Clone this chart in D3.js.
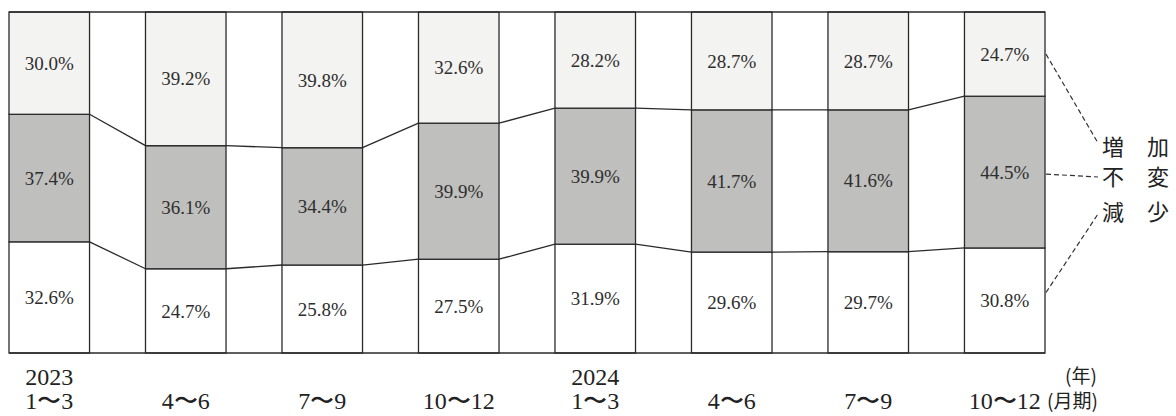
<!DOCTYPE html>
<html>
<head>
<meta charset="utf-8">
<script src="https://cdn.jsdelivr.net/npm/d3@7"></script>
<style>
  html, body { margin: 0; padding: 0; background: #fff; }
  svg { display: block; }
</style>
</head>
<body>
<svg id="chart" width="1176" height="416"></svg>
<script>
// ---- data ----
const periods = ["1〜3", "4〜6", "7〜9", "10〜12", "1〜3", "4〜6", "7〜9", "10〜12"];
const years = ["2023", "", "", "", "2024", "", "", ""];
const decrease = [32.6, 24.7, 25.8, 27.5, 31.9, 29.6, 29.7, 30.8];   // 減少 (bottom)
const unchanged = [37.4, 36.1, 34.4, 39.9, 39.9, 41.7, 41.6, 44.5];  // 不変 (middle)
const increase = [30.0, 39.2, 39.8, 32.6, 28.2, 28.7, 28.7, 24.7];   // 増加 (top)
const seriesNames = ["減　少", "不　変", "増　加"];
const seriesKeys = ["decrease", "unchanged", "increase"];

// ---- layout ----
const svg = d3.select("#chart");
const plotLeft = 9, plotRight = 1045, plotTop = 12, plotBottom = 353;
const fills = { decrease: "#ffffff", unchanged: "#bfbfbd", increase: "#f3f3f1" };
const stroke = "#2a2a2a";
const numFont = "'Liberation Serif', 'Times New Roman', serif";
const cjkFont = "'Noto Sans CJK JP', 'Noto Sans', sans-serif";

const rows = periods.map((p, i) => ({
  idx: i, decrease: decrease[i], unchanged: unchanged[i], increase: increase[i]
}));

const x = d3.scaleBand().domain(d3.range(periods.length)).range([plotLeft, plotRight])
  .paddingInner(0.41).paddingOuter(0);
const y = d3.scaleLinear().domain([0, 100]).range([plotBottom, plotTop]);

const stack = d3.stack().keys(seriesKeys);
const layers = stack(rows);

// connector lines between bars at stack boundaries
const boundaries = [0, 1].map(k => layers[k].map(d => d[1]));
boundaries.forEach(b => {
  for (let i = 0; i < b.length - 1; i++) {
    svg.append("line")
      .attr("x1", x(i) + x.bandwidth()).attr("y1", y(b[i]))
      .attr("x2", x(i + 1)).attr("y2", y(b[i + 1]))
      .attr("stroke", stroke).attr("stroke-width", 1.3);
  }
});

// bar segments
const g = svg.append("g");
layers.forEach(layer => {
  const key = layer.key;
  g.selectAll(null).data(layer).enter().append("rect")
    .attr("x", (d, i) => x(i))
    .attr("y", d => y(d[1]))
    .attr("width", x.bandwidth())
    .attr("height", d => y(d[0]) - y(d[1]))
    .attr("fill", fills[key])
    .attr("stroke", stroke).attr("stroke-width", 1.3);
  g.selectAll(null).data(layer).enter().append("text")
    .attr("x", (d, i) => x(i) + x.bandwidth() / 2)
    .attr("y", d => (y(d[0]) + y(d[1])) / 2)
    .attr("dy", "0.35em")
    .attr("text-anchor", "middle")
    .attr("font-family", numFont).attr("font-size", 19)
    .attr("fill", "#2e2e2e")
    .text(d => d.data[key].toFixed(1) + "%");
});

// outer frame top & bottom
[plotTop, plotBottom].forEach(yy => {
  svg.append("line").attr("x1", plotLeft).attr("x2", plotRight).attr("y1", yy).attr("y2", yy)
    .attr("stroke", stroke).attr("stroke-width", 1.6);
});

// x-axis labels
const xl = svg.append("g");
periods.forEach((p, i) => {
  const cx = x(i) + x.bandwidth() / 2;
  if (years[i]) {
    xl.append("text").attr("x", cx).attr("y", 385)
      .attr("text-anchor", "middle").attr("font-family", numFont).attr("font-size", 24)
      .attr("fill", "#222").text(years[i]);
  }
  xl.append("text").attr("x", cx).attr("y", 409)
    .attr("text-anchor", "middle").attr("font-family", numFont).attr("font-size", 24)
    .attr("fill", "#222").text(p);
});
xl.append("text").attr("x", 1081).attr("y", 383)
  .attr("text-anchor", "middle").attr("font-family", cjkFont).attr("font-size", 19)
  .attr("fill", "#222").text("(年)");
xl.append("text").attr("x", 1047).attr("y", 408)
  .attr("text-anchor", "start").attr("font-family", cjkFont).attr("font-size", 19)
  .attr("fill", "#222").text("(月期)");

// legend with dashed leader lines
const last = periods.length - 1;
const legendY = { increase: 147, unchanged: 177, decrease: 212 };
const startOffset = { increase: 0, unchanged: 2, decrease: -8 };
const lg = svg.append("g");
seriesKeys.forEach((key, k) => {
  const d = layers[k][last];
  const sy = (y(d[0]) + y(d[1])) / 2 + startOffset[key];
  const ly = legendY[key];
  const ey = key === "increase" ? ly - 4 : key === "decrease" ? ly + 2 : ly;
  lg.append("line")
    .attr("x1", plotRight + 1).attr("y1", sy)
    .attr("x2", 1098).attr("y2", ey)
    .attr("stroke", "#333").attr("stroke-width", 1.2)
    .attr("stroke-dasharray", "5,3");
  const name = seriesNames[k];
  lg.append("text").attr("x", 1102).attr("y", ly).attr("dy", "0.36em")
    .attr("font-family", cjkFont).attr("font-size", 22).attr("fill", "#222")
    .text(name[0]);
  lg.append("text").attr("x", 1147).attr("y", ly).attr("dy", "0.36em")
    .attr("font-family", cjkFont).attr("font-size", 22).attr("fill", "#222")
    .text(name[2]);
});
</script>
</body>
</html>
